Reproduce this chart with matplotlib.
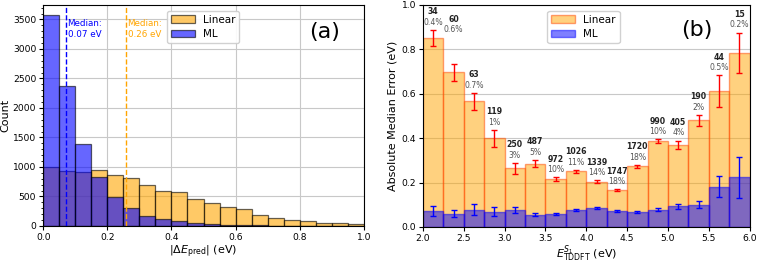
import numpy as np
import matplotlib
matplotlib.use("Agg")
import matplotlib.pyplot as plt
from matplotlib.ticker import MultipleLocator

# ---------------- data: panel (a) ----------------
bin_edges_a = np.round(np.arange(0, 1.0001, 0.05), 2)
linear_counts = [1000, 930, 910, 940, 860, 810, 690, 595, 570, 452,
                 388, 317, 283, 187, 130, 96, 76, 52, 46, 26]
ml_counts = [3575, 2372, 1397, 831, 495, 300, 170, 112, 84, 55,
             32, 24, 15, 10, 6, 5, 4, 3, 2, 2]
median_ml = 0.07
median_linear = 0.257

# ---------------- data: panel (b) ----------------
bin_edges_b = np.arange(2.0, 6.0001, 0.25)
linear_mae = [0.852, 0.696, 0.565, 0.399, 0.264, 0.285, 0.214, 0.250,
              0.204, 0.165, 0.273, 0.385, 0.370, 0.480, 0.610, 0.784]
linear_err = [0.036, 0.038, 0.039, 0.038, 0.024, 0.017, 0.009, 0.008,
              0.007, 0.005, 0.006, 0.009, 0.019, 0.024, 0.072, 0.091]
ml_mae = [0.072, 0.060, 0.078, 0.069, 0.075, 0.055, 0.060, 0.076,
          0.084, 0.072, 0.067, 0.078, 0.093, 0.100, 0.181, 0.223]
ml_err = [0.022, 0.017, 0.025, 0.021, 0.013, 0.007, 0.005, 0.006,
          0.005, 0.004, 0.003, 0.007, 0.010, 0.016, 0.047, 0.092]
bin_counts = [34, 60, 63, 119, 250, 487, 972, 1026, 1339, 1747,
              1720, 990, 405, 190, 44, 15]
bin_pcts = ["0.4%", "0.6%", "0.7%", "1%", "3%", "5%", "10%", "11%",
            "14%", "18%", "18%", "10%", "4%", "2%", "0.5%", "0.2%"]

plt.rcParams['font.family'] = ['DejaVu Sans']

fig = plt.figure(figsize=(7.58, 2.63), dpi=100)
axa = fig.add_axes([0.057, 0.141, 0.423, 0.841])
axb = fig.add_axes([0.558, 0.137, 0.431, 0.845])

TICK = 6.6
LAB = 8.0

# ---------------- panel (a) ----------------
wa = np.diff(bin_edges_a)
axa.set_axisbelow(True)
axa.grid(True, color='#c8c8c8', linewidth=0.8)
axa.bar(bin_edges_a[:-1], linear_counts, width=wa, align='edge',
        color='orange', alpha=0.6, edgecolor='black', linewidth=0.9, label='Linear')
axa.bar(bin_edges_a[:-1], ml_counts, width=wa, align='edge',
        color='blue', alpha=0.6, edgecolor='black', linewidth=0.9, label='ML')
axa.axvline(median_ml, color='blue', linestyle='--', linewidth=1.0)
axa.axvline(median_linear, color='orange', linestyle='--', linewidth=1.0)
axa.text(median_ml + 0.006, 3500, f"Median:\n{median_ml:.2f} eV", color='blue',
         fontsize=6.3, va='top', ha='left', linespacing=1.25)
axa.text(median_linear + 0.006, 3500, f"Median:\n{median_linear:.2f} eV", color='orange',
         fontsize=6.3, va='top', ha='left', linespacing=1.25)
axa.set_xlim(0, 1.0)
axa.set_ylim(0, 3750)
axa.xaxis.set_major_locator(MultipleLocator(0.2))
axa.yaxis.set_major_locator(MultipleLocator(500))
axa.yaxis.set_minor_locator(MultipleLocator(100))
axa.tick_params(labelsize=TICK, length=3, pad=2)
axa.tick_params(which='minor', length=1.5)
axa.set_xlabel(r'$|\Delta E_{\mathrm{pred}}|$ (eV)', fontsize=LAB, labelpad=1)
axa.set_ylabel('Count', fontsize=LAB, labelpad=2)
axa.legend(loc='upper left', bbox_to_anchor=(0.37, 0.995), fontsize=7.5,
           handlelength=2.3, borderpad=0.35, labelspacing=0.45, framealpha=0.9)
axa.text(0.925, 0.875, '(a)', transform=axa.transAxes, fontsize=16,
         ha='right', va='center')

# ---------------- panel (b) ----------------
wb = np.diff(bin_edges_b)
xc = bin_edges_b[:-1] + wb / 2
axb.set_axisbelow(True)
axb.yaxis.grid(True, color='#c8c8c8', linewidth=0.8)
axb.bar(bin_edges_b[:-1], linear_mae, width=wb, align='edge',
        color='orange', alpha=0.5, edgecolor='orangered', linewidth=1.0, label='Linear')
axb.bar(bin_edges_b[:-1], ml_mae, width=wb, align='edge',
        color='blue', alpha=0.5, edgecolor='blue', linewidth=1.0, label='ML')
axb.errorbar(xc, linear_mae, yerr=linear_err, fmt='none', ecolor='red',
             elinewidth=1.0, capsize=2.2, capthick=1.0)
axb.errorbar(xc, ml_mae, yerr=ml_err, fmt='none', ecolor='blue',
             elinewidth=1.0, capsize=2.2, capthick=1.0)
extra = {1: 0.12}
for i, (x, m, e, n, p) in enumerate(zip(xc, linear_mae, linear_err, bin_counts, bin_pcts)):
    ytop = m + e + extra.get(i, 0.0)
    axb.text(x, ytop + 0.034, p, ha='center', va='center', fontsize=5.6, color='#555555')
    axb.text(x, ytop + 0.081, str(n), ha='center', va='center', fontsize=5.6,
             fontweight='bold', color='#222222')
axb.set_xlim(2.0, 6.0)
axb.set_ylim(0, 1.0)
axb.xaxis.set_major_locator(MultipleLocator(0.5))
axb.yaxis.set_major_locator(MultipleLocator(0.2))
axb.tick_params(labelsize=TICK, length=3, pad=2)
axb.set_xlabel(r'$E^{S_1}_{\mathrm{TDDFT}}$ (eV)', fontsize=LAB, labelpad=0)
axb.set_ylabel('Absolute Median Error (eV)', fontsize=LAB, labelpad=3)
axb.legend(loc='upper left', bbox_to_anchor=(0.365, 0.995), fontsize=7.5,
           handlelength=2.3, borderpad=0.35, labelspacing=0.45, framealpha=0.9)
axb.text(0.885, 0.885, '(b)', transform=axb.transAxes, fontsize=16,
         ha='right', va='center')

fig.savefig('out.png', dpi=100)
